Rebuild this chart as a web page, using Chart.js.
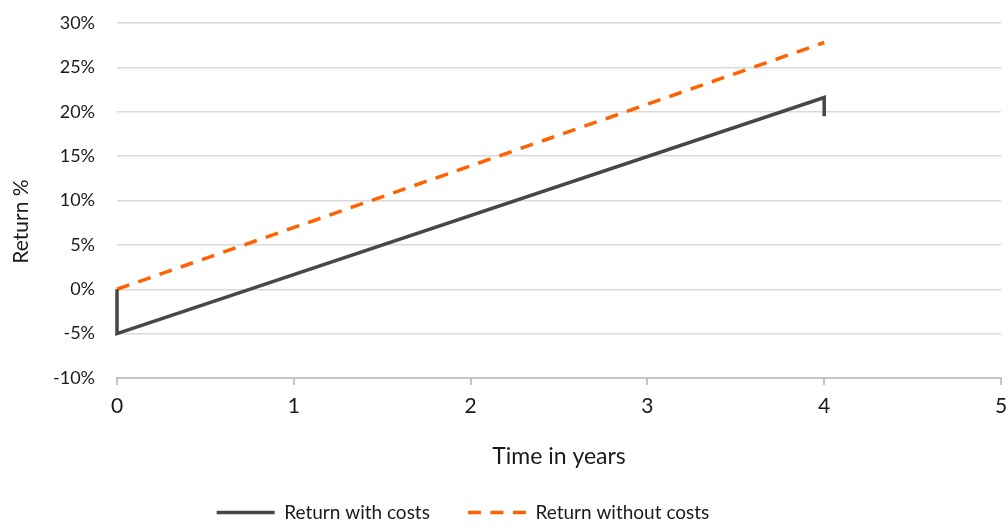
<!DOCTYPE html>
<html lang="en">
<head>
<meta charset="UTF-8" />
<title>Return with and without costs</title>
<script src="https://cdn.jsdelivr.net/npm/chart.js"></script>
<style>
    body { margin: 0; background: #ffffff; }
    #wrap { width: 1008px; height: 528px; }
</style>
</head>
<body>
<div id="wrap"><canvas id="returnChart" width="1008" height="528"></canvas></div>
<script>
// Data
const yearsWithCosts = [0, 0, 4, 4];
const returnWithCosts = [0, -5, 21.6, 19.5];
const yearsWithoutCosts = [0, 4];
const returnWithoutCosts = [0, 27.8];

const seriesNames = ['Return with costs', 'Return without costs'];
const xRange = [0, 5];
const yRange = [-10, 30];

const toPoints = (xs, ys) => xs.map((x, i) => ({ x: x, y: ys[i] }));

const family = 'Lato, "Open Sans", sans-serif';
const textColor = '#1a1a1a';

// the original has its legend left of centre and the y title a bit low.
// y.top is only shifted while the axis draws, so the line clipping is untouched
const TITLE_SHIFT = 42;
const nudgeBoxes = {
    id: 'nudgeBoxes',
    afterLayout(chart) {
        chart.legend.right -= 82;
    },
    beforeDraw(chart) {
        chart.scales.y.top += TITLE_SHIFT;
    },
    beforeDatasetsDraw(chart) {
        chart.scales.y.top -= TITLE_SHIFT;
    }
};

// legend samples as line segments, dashed like their series
function lineLabels(chart) {
    const items = Chart.defaults.plugins.legend.labels.generateLabels(chart);
    return items.map((item, i) => {
        const ds = chart.data.datasets[i];
        return Object.assign(item, {
            strokeStyle: ds.borderColor,
            lineWidth: ds.borderWidth,
            lineDash: ds.borderDash || []
        });
    });
}

new Chart(document.getElementById('returnChart'), {
    type: 'scatter',
    data: {
        datasets: [{
            label: seriesNames[0],
            data: toPoints(yearsWithCosts, returnWithCosts),
            showLine: true,
            borderColor: '#474747',
            backgroundColor: '#474747',
            borderWidth: 3.5,
            pointRadius: 0,
            tension: 0,
            clip: false
        }, {
            label: seriesNames[1],
            data: toPoints(yearsWithoutCosts, returnWithoutCosts),
            showLine: true,
            borderColor: '#ff6200',
            backgroundColor: '#ff6200',
            borderWidth: 3.5,
            borderDash: [13, 9.5],
            pointRadius: 0,
            tension: 0,
            clip: false
        }]
    },
    options: {
        responsive: false,
        animation: false,
        layout: { padding: 0 },
        scales: {
            x: {
                type: 'linear',
                min: xRange[0],
                max: xRange[1],
                ticks: { stepSize: 1, color: textColor, font: { family: family, size: 21 }, padding: 9 },
                grid: { drawOnChartArea: false, drawTicks: true, tickLength: 7, color: '#c4c4c4', lineWidth: 2 },
                border: { display: true, color: '#c4c4c4', width: 2 },
                title: {
                    display: true, text: 'Time in years', color: textColor,
                    font: { family: family, size: 23 }, padding: { top: 0, bottom: -5 }
                },
                afterFit: scale => {
                    scale.height = 87;
                    scale.paddingLeft = 0;
                    scale.paddingRight = 7;
                }
            },
            y: {
                min: yRange[0],
                max: yRange[1],
                ticks: {
                    stepSize: 5,
                    color: textColor,
                    font: { family: family, size: 18 },
                    padding: 22,
                    callback: v => v + '%'
                },
                grid: { color: '#d9d9d9', lineWidth: 1.5, drawTicks: false },
                border: { display: false },
                title: {
                    display: true, text: 'Return %', color: textColor,
                    font: { family: family, size: 21 }, padding: { top: 9, bottom: 0 }
                },
                afterFit: scale => {
                    scale.width = 117;
                    scale.paddingTop = 23;
                    scale.paddingBottom = 0;
                }
            }
        },
        plugins: {
            tooltip: { enabled: false },
            legend: {
                position: 'bottom',
                maxHeight: 63,
                labels: {
                    usePointStyle: true,
                    pointStyle: 'line',
                    pointStyleWidth: 58,
                    color: textColor,
                    font: { family: family, size: 19 },
                    padding: 38,
                    generateLabels: lineLabels
                }
            }
        }
    },
    plugins: [nudgeBoxes]
});
</script>
</body>
</html>
